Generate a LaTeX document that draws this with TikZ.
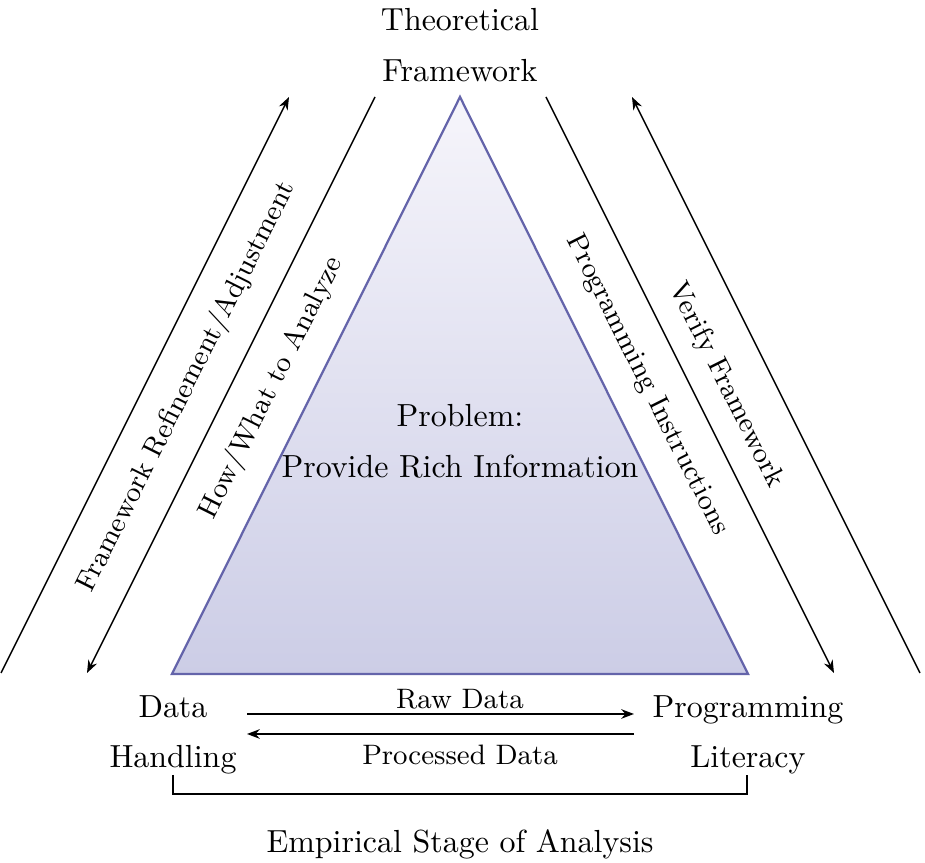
\documentclass[tikz,border=0pt]{standalone}
\usetikzlibrary{arrows.meta}
\definecolor{triborder}{RGB}{100,100,170}
\definecolor{tritop}{RGB}{246,245,251}
\definecolor{tribot}{RGB}{204,205,230}
\begin{document}
\begin{tikzpicture}[x=0.313pt,y=-0.313pt,
  conn/.style={line width=0.45pt},
  tipend/.style={-{Stealth[length=4pt,width=3pt]}},
  bigtext/.style={font=\fontsize{10}{15.8}\selectfont, inner sep=0pt, align=center},
  smalltext/.style={font=\fontsize{8.8}{10}\selectfont, inner sep=0pt}]
\useasboundingbox (0,0) rectangle (925,863);
% triangle
\coordinate (apex) at (460,97);
\coordinate (bl) at (172,674);
\coordinate (br) at (748,674);
\draw[draw=triborder, line width=0.7pt, top color=tritop, bottom color=tribot] (apex) -- (bl) -- (br) -- cycle;
% texts
\node[bigtext, anchor=north] (theo) at (460,8) {Theoretical\\Framework};
\node[bigtext, anchor=north] (prob) at (460,404) {Problem:\\Provide Rich Information};
\node[bigtext, anchor=north] (dh) at (173,695) {Data\\Handling};
\node[bigtext, anchor=north] (pl) at (748,695) {Programming\\Literacy};
\node[bigtext, anchor=base] (emp) at (460,853) {Empirical Stage of Analysis};
% diagonal arrows
\coordinate (ol1) at (1,673);   \coordinate (ol2) at (289,97);
\coordinate (il1) at (375,97);  \coordinate (il2) at (87,673);
\coordinate (ir1) at (546,97);  \coordinate (ir2) at (834,673);
\coordinate (or1) at (920,673); \coordinate (or2) at (632,97);
\draw[conn,tipend] (ol1) -- (ol2);
\draw[conn,tipend] (il1) -- (il2);
\draw[conn,tipend] (ir1) -- (ir2);
\draw[conn,tipend] (or1) -- (or2);
\node[smalltext, rotate=63.43] (fra) at (187,387) {Framework Refinement/Adjustment};
\node[smalltext, rotate=63.43] (how) at (272,388) {How/What to Analyze};
\node[smalltext, rotate=-63.43] (pinst) at (647,385) {Programming Instructions};
\node[smalltext, rotate=-63.43] (vf) at (726,385) {Verify Framework};
% data arrows
\coordinate (rawA) at (247,714); \coordinate (rawB) at (634,714);
\coordinate (proA) at (634,734); \coordinate (proB) at (247,734);
\draw[conn,tipend] (rawA) -- (rawB);
\draw[conn,tipend] (proA) -- (proB);
\node[smalltext, anchor=base] (raw) at (460,709) {Raw Data};
\node[smalltext, anchor=base] (pro) at (460,765) {Processed Data};
% bracket
\coordinate (brL) at (173,775); \coordinate (brLb) at (173,794);
\coordinate (brRb) at (747,794); \coordinate (brR) at (747,775);
\draw[line width=0.9pt] (brL) -- (brLb) -- (brRb) -- (brR);
\end{tikzpicture}
\end{document}
